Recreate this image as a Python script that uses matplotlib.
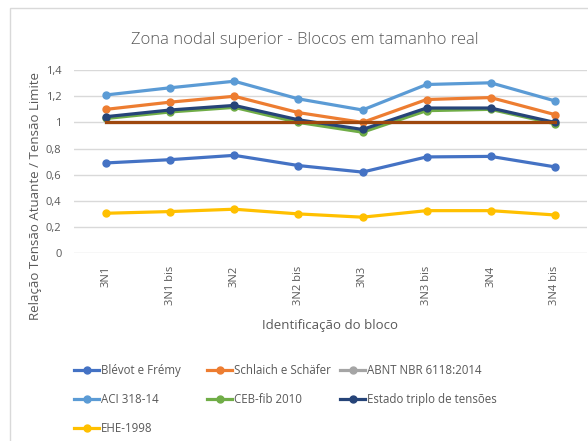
import matplotlib.pyplot as plt
from matplotlib.patches import Rectangle
from matplotlib.lines import Line2D

plt.rcParams['font.family'] = ['Open Sans', 'DejaVu Sans']

blocos = ["3N1", "3N1 bis", "3N2", "3N2 bis", "3N3", "3N3 bis", "3N4", "3N4 bis"]

blevot = [0.69, 0.715, 0.748, 0.67, 0.62, 0.736, 0.74, 0.66]
schlaich = [1.10, 1.155, 1.20, 1.075, 1.00, 1.175, 1.19, 1.06]
abnt = [1.0, 1.0, 1.0, 1.0, 1.0, 1.0, 1.0, 1.0]
aci = [1.21, 1.265, 1.315, 1.18, 1.095, 1.29, 1.303, 1.165]
ceb = [1.03, 1.08, 1.115, 1.00, 0.925, 1.09, 1.10, 0.99]
estado = [1.044, 1.095, 1.13, 1.02, 0.946, 1.11, 1.11, 1.00]
ehe = [0.305, 0.318, 0.336, 0.30, 0.275, 0.325, 0.325, 0.292]
limite = [1.0] * 8

series = [
    ("Blévot e Frémy", blevot, "#4472C4"),
    ("Schlaich e Schäfer", schlaich, "#ED7D31"),
    ("ABNT NBR 6118:2014", abnt, "#A5A5A5"),
    ("ACI 318-14", aci, "#5B9BD5"),
    ("CEB-fib 2010", ceb, "#70AD47"),
    ("Estado triplo de tensões", estado, "#264478"),
    ("EHE-1998", ehe, "#FFC000"),
]

txt = "#595959"

fig = plt.figure(figsize=(5.88, 4.41), dpi=100)
ax = fig.add_axes([0.126, 0.426, 0.872, 0.415])

x = list(range(len(blocos)))
handles = {}
for name, vals, col in series:
    if name == "ABNT NBR 6118:2014":
        # fica escondida sob a linha de limite
        ax.plot(x, vals, color=col, lw=2.3, zorder=1.5)
    else:
        ax.plot(x, vals, color=col, lw=2.3, marker='o', ms=5)
    handles[name] = Line2D([], [], color=col, lw=2.3, marker='o', ms=5)
# linha de referencia (limite = 1)
ax.plot(x, limite, color="#9E480E", lw=2.3, zorder=5)

ax.set_xlim(-0.5, 7.5)
ax.set_ylim(0, 1.4)
ax.set_yticks([0, 0.2, 0.4, 0.6, 0.8, 1.0, 1.2, 1.4])
ax.set_yticklabels(["0", "0,2", "0,4", "0,6", "0,8", "1", "1,2", "1,4"])
ax.set_xticks(x)
ax.set_xticklabels(blocos, rotation=90)
ax.tick_params(length=0, colors=txt, labelsize=8)
ax.tick_params(axis='y', pad=9)
ax.tick_params(axis='x', pad=9)
ax.grid(axis='y', color="#D9D9D9", lw=1)
ax.set_axisbelow(True)
for s in ax.spines.values():
    s.set_visible(False)

fig.text(0.519, 0.909, "Zona nodal superior - Blocos em tamanho real",
         color=txt, fontsize=12, ha='center', va='center', fontweight='light')
fig.text(0.562, 0.263, "Identificação do bloco", color=txt, fontsize=9.5,
         ha='center', va='center')
fig.text(0.06, 0.555, "Relação Tensão Atuante / Tensão Limite", color=txt,
         fontsize=9.5, ha='center', va='center', rotation=90)

# legenda em tres colunas, cada uma posicionada separadamente
colunas = [["Blévot e Frémy", "ACI 318-14", "EHE-1998"],
           ["Schlaich e Schäfer", "CEB-fib 2010"],
           ["ABNT NBR 6118:2014", "Estado triplo de tensões"]]
xcol = [74 / 588, 207 / 588, 340 / 588]
for nomes, xc in zip(colunas, xcol):
    leg = fig.legend([handles[n] for n in nomes], nomes, frameon=False,
                     loc='upper left', bbox_to_anchor=(xc, 0.174),
                     fontsize=8.3, handlelength=2.2, handletextpad=0.1,
                     labelspacing=1.38, borderpad=0, borderaxespad=0)
    for t in leg.get_texts():
        t.set_color(txt)

fig.patches.append(Rectangle((0.017, -0.01), 1.0, 0.992, transform=fig.transFigure,
                             fill=False, edgecolor="#D9D9D9", lw=1))

fig.savefig("out.png", dpi=100)
